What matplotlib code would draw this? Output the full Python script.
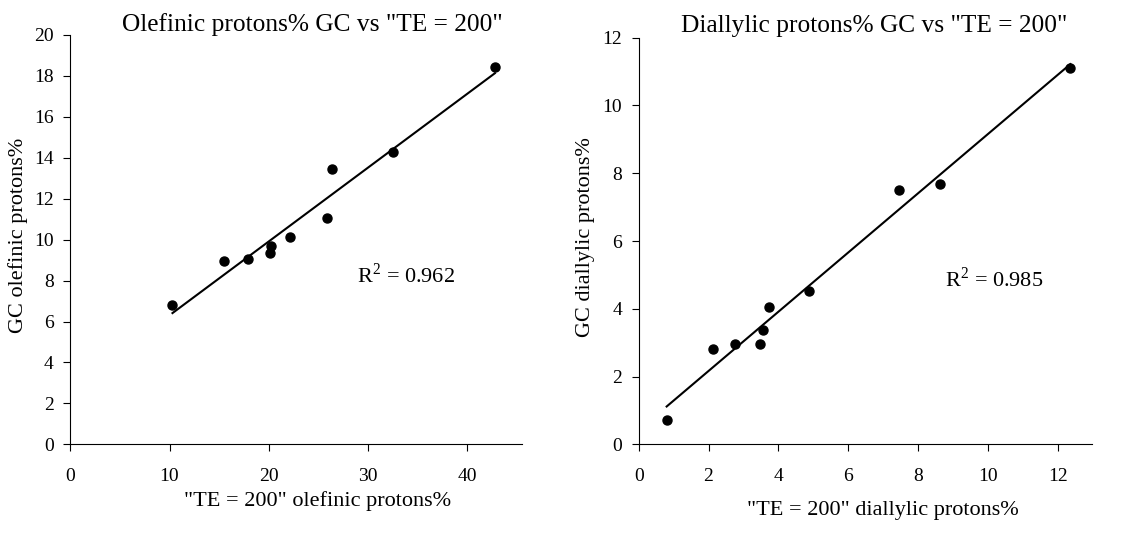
import numpy as np
import matplotlib.pyplot as plt

plt.rcParams['font.family'] = ['Liberation Serif', 'DejaVu Serif']
plt.rcParams['mathtext.fontset'] = 'custom'
plt.rcParams['mathtext.rm'] = 'Liberation Serif'

# olefinic protons%: "TE = 200" vs GC
ole_te = [10.3, 15.5, 17.9, 20.15, 20.25, 22.1, 25.9, 26.4, 32.5, 42.8]
ole_gc = [6.81, 8.96, 9.04, 9.37, 9.71, 10.12, 11.08, 13.47, 14.27, 18.46]

# diallylic protons%: "TE = 200" vs GC
dia_te = [0.80, 2.14, 2.77, 3.46, 3.55, 3.73, 4.87, 7.45, 8.62, 12.36]
dia_gc = [0.72, 2.81, 2.95, 2.95, 3.36, 4.06, 4.52, 7.50, 7.67, 11.11]

W, H = 1145, 542
fig = plt.figure(figsize=(W / 100, H / 100), dpi=100)


def make_ax(l, r, t, b):
    return fig.add_axes([l / W, 1 - b / H, (r - l) / W, (b - t) / H])


def style(ax):
    ax.spines['top'].set_visible(False)
    ax.spines['right'].set_visible(False)
    ax.tick_params(axis='x', direction='out', length=5, pad=12, labelsize=14)
    ax.tick_params(axis='y', direction='out', length=5, pad=7, labelsize=14)


def scatter_fit(ax, x, y):
    x = np.array(x)
    y = np.array(y)
    k, c = np.polyfit(x, y, 1)
    xs = np.array([x.min(), x.max()])
    ax.plot(xs, k * xs + c, color='black', lw=1.5)
    ax.plot(x, y, 'o', color='black', markersize=6.5)


ax1 = make_ax(70.3, 521.7, 35, 444.3)
scatter_fit(ax1, ole_te, ole_gc)
ax1.set_xlim(0, 45.5)
ax1.set_ylim(0, 20)
ax1.set_xticks([0, 10, 20, 30, 40])
ax1.set_yticks(range(0, 21, 2))
style(ax1)
ax1.text(28.9, 8.27, r'R$^{2}$ = 0.962', fontsize=16, va='center')
ax1.set_ylabel('GC olefinic protons%', fontsize=16)
ax1.yaxis.set_label_coords(-0.094, 0.51)
fig.text(318 / W, 1 - 501 / H, '"TE = 200" olefinic protons%',
         fontsize=16, ha='center', va='center')
fig.text(312 / W, 1 - 25 / H, 'Olefinic protons% GC vs "TE = 200"',
         fontsize=18.3, ha='center', va='center')

ax2 = make_ax(638.7, 1091.7, 37.7, 444.3)
scatter_fit(ax2, dia_te, dia_gc)
ax2.set_xlim(0, 12.97)
ax2.set_ylim(0, 12)
ax2.set_xticks(range(0, 13, 2))
ax2.set_yticks(range(0, 13, 2))
style(ax2)
ax2.text(8.77, 4.85, r'R$^{2}$ = 0.985', fontsize=16, va='center')
ax2.set_ylabel('GC diallylic protons%', fontsize=16)
ax2.yaxis.set_label_coords(-0.096, 0.509)
fig.text(883 / W, 1 - 510 / H, '"TE = 200" diallylic protons%',
         fontsize=16, ha='center', va='center')
fig.text(874 / W, 1 - 26 / H, 'Diallylic protons% GC vs "TE = 200"',
         fontsize=18.3, ha='center', va='center')

fig.savefig('out.png', dpi=100)
